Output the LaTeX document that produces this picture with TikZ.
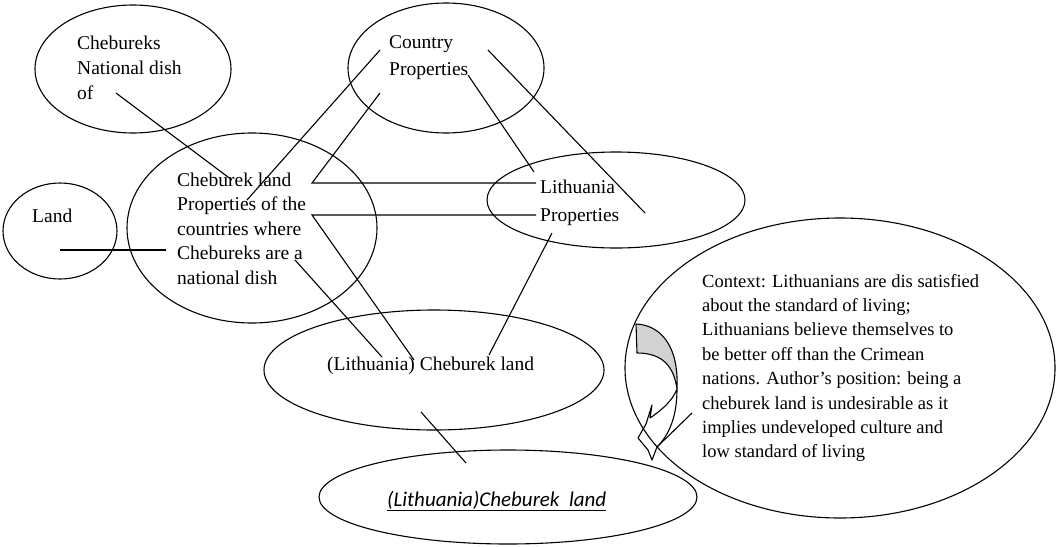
\documentclass[tikz,border=0pt]{standalone}
\usepackage{fontspec}
\setmainfont{Liberation Serif}
\newfontfamily\calibrifont{Carlito}
\usetikzlibrary{shapes.geometric}
\begin{document}
\begin{tikzpicture}[x=1pt,y=-1pt,
  bubble/.style={draw, ellipse, line width=1.1pt, inner sep=0pt},
  txt/.style={anchor=base west, inner sep=0pt, font=\fontsize{19.5}{25}\selectfont},
  ctxt/.style={anchor=base west, inner sep=0pt, font=\fontsize{18.5}{24.4}\selectfont},
  link/.style={line width=1.1pt}]
\useasboundingbox (0,0) rectangle (1057,546);

% ellipses
\node[bubble, minimum width=196pt, minimum height=128pt] (dish) at (133,69) {};
\node[bubble, minimum width=196pt, minimum height=130pt] (country) at (446,68) {};
\node[bubble, minimum width=114pt, minimum height=96pt] (land) at (60,231) {};
\node[bubble, minimum width=250pt, minimum height=190pt] (cland) at (252,228) {};
\node[bubble, minimum width=258pt, minimum height=96pt] (lith) at (616,200) {};
\node[bubble, minimum width=340pt, minimum height=120pt] (lcland) at (434,370) {};
\node[bubble, minimum width=378pt, minimum height=94pt] (result) at (508,497) {};
\node[bubble, minimum width=430pt, minimum height=300pt] (context) at (840,368) {};

% texts
\node[txt] (tdish) at (77,49) {\vtop{\hbox{Chebureks}\hbox{National dish}\hbox{of}}};
\node[txt] (tcountry) at (389,48) {\vtop{\hbox{Country}\baselineskip=27pt\hbox{Properties}}};
\node[txt] (tland) at (32,222) {Land};
\node[txt] (tcland) at (177,186) {\vtop{\baselineskip=24.5pt\hbox{Cheburek land}\hbox{Properties of the}\hbox{countries where}\hbox{Chebureks are a}\hbox{national dish}}};
\node[txt] (tlith) at (540,193) {\vtop{\baselineskip=28pt\hbox{Lithuania}\hbox{Properties}}};
\node[txt] (tlcland) at (327,370) {(Lithuania) Cheburek land};
\node[txt, font=\calibrifont\itshape\fontsize{21}{25}\selectfont] (tresult) at (387,506) {\underline{(Lithuania)Cheburek~ land}};
\node[ctxt] (tcontext) at (702,287) {\vtop{\hbox{Context: Lithuanians are dis satisfied}\hbox{about the standard of living;}\hbox{Lithuanians believe themselves to}\hbox{be better off than the Crimean}\hbox{nations. Author's position: being a}\hbox{cheburek land is undesirable as it}\hbox{implies undeveloped culture and}\hbox{low standard of living}}};

% connector ends
\coordinate (a1) at (116,93);  \coordinate (a2) at (232,180);
\coordinate (b1) at (60,250);  \coordinate (b2) at (166,250);
\coordinate (c1) at (380,50);  \coordinate (c2) at (247,200);
\coordinate (d1) at (380,93);  \coordinate (d2) at (312,183); \coordinate (d3) at (536,183);
\coordinate (e1) at (312,215); \coordinate (e2) at (536,215); \coordinate (e3) at (414,360);
\coordinate (f1) at (295,260); \coordinate (f2) at (382,357);
\coordinate (g1) at (468,75);  \coordinate (g2) at (534,172);
\coordinate (h1) at (488,50);  \coordinate (h2) at (645,213);
\coordinate (i1) at (552,233); \coordinate (i2) at (489,355);
\coordinate (j1) at (421,412); \coordinate (j2) at (466,463);
\coordinate (k1) at (692,413); \coordinate (k2) at (657,447);

% connectors
\draw[link] (a1) -- (a2);
\draw[link] (b1) -- (b2);
\draw[link] (c1) -- (c2);
\draw[link] (d1) -- (d2) -- (d3);
\draw[link] (e2) -- (e1) -- (e3);
\draw[link] (f1) -- (f2);
\draw[link] (g1) -- (g2);
\draw[link] (h1) -- (h2);
\draw[link] (i1) -- (i2);
\draw[link] (j1) -- (j2);
\draw[link] (k1) -- (k2);

% curved block arrow: shaded back face, then the white shaft and head
\filldraw[link, fill=gray!35, line join=round] (636,324) .. controls (660,325) and (679,345) .. (677,389)
  .. controls (674,368) and (664,353) .. (637,353) -- cycle;
\draw[link, line join=round] (677,389) .. controls (677,415) and (670,434) .. (657,447)
  -- (652,460) -- (648,450) -- (638,438) -- (646,424) -- (652,405) -- (650,418)
  .. controls (662,410) and (673,400) .. (677,389);
\end{tikzpicture}
\end{document}
